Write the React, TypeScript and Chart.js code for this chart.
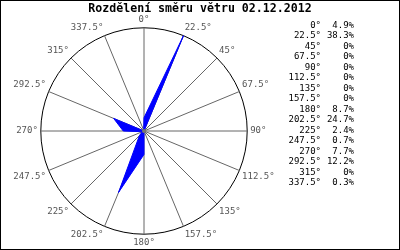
import React, { useEffect, useRef } from "react";
import { Chart, registerables } from "chart.js";

Chart.register(...registerables);

const TITLE = "Rozdělení směru větru 02.12.2012";
const directions = ["0°", "22.5°", "45°", "67.5°", "90°", "112.5°", "135°", "157.5°", "180°", "202.5°", "225°", "247.5°", "270°", "292.5°", "315°", "337.5°"];
const frequencies = [4.9, 38.3, 0, 0, 0, 0, 0, 0, 8.7, 24.7, 2.4, 0.7, 7.7, 12.2, 0, 0.3];
const legendValues = ["4.9%", "38.3%", "0%", "0%", "0%", "0%", "0%", "0%", "8.7%", "24.7%", "2.4%", "0.7%", "7.7%", "12.2%", "0%", "0.3%"];

const MONO = "'DejaVu Sans Mono', monospace";

export default function App() {
  const ref = useRef<HTMLCanvasElement>(null);
  useEffect(() => {
    document.body.style.margin = "0";
    const centerDot = {
      id: "centerDot",
      afterDatasetsDraw(chart: any) {
        const s = chart.scales.r;
        const ctx = chart.ctx;
        ctx.save();
        ctx.fillStyle = "#777";
        ctx.beginPath();
        ctx.arc(s.xCenter, s.yCenter, 2, 0, Math.PI * 2);
        ctx.fill();
        ctx.restore();
      },
    };
    const chart = new Chart(ref.current!, {
      type: "radar",
      data: {
        labels: directions,
        datasets: [
          {
            data: frequencies,
            backgroundColor: "#0000ff",
            borderColor: "#0000ff",
            borderWidth: 1,
            fill: true,
            pointRadius: 0,
            tension: 0,
          },
        ],
      },
      options: {
        responsive: false,
        animation: false,
        layout: { padding: { left: 0, top: 14, right: 112, bottom: 1 } },
        plugins: { legend: { display: false }, tooltip: { enabled: false }, title: { display: false } },
        scales: {
          r: {
            min: 0,
            max: 38.3,
            ticks: { display: false, count: 2 },
            grid: { circular: true, color: "#000", lineWidth: 1 },
            angleLines: { display: true, color: "#666", lineWidth: 1 },
            pointLabels: {
              display: true,
              color: "#555",
              padding: 3,
              font: { family: MONO, size: 9 },
            },
          },
        },
      },
      plugins: [centerDot],
    });
    return () => chart.destroy();
  }, []);

  return (
    <div style={{ position: "relative", width: 400, height: 250, background: "#fff", overflow: "hidden" }}>
      <canvas ref={ref} width={400} height={250} style={{ position: "absolute", left: 0, top: 0 }} />
      <div
        style={{
          position: "absolute",
          left: 0,
          top: 1,
          width: 400,
          textAlign: "center",
          fontFamily: MONO,
          fontWeight: "bold",
          fontSize: 11.6,
          lineHeight: "14px",
          color: "#000",
          whiteSpace: "pre",
        }}
      >
        {TITLE}
      </div>
      <div style={{ position: "absolute", left: 280, top: 19.5, fontFamily: MONO, fontSize: 9, lineHeight: "10.5px", color: "#000" }}>
        {directions.map((d, i) => (
          <div key={d} style={{ display: "flex", whiteSpace: "pre" }}>
            <span style={{ width: 41, textAlign: "right" }}>{d}</span>
            <span style={{ width: 33, textAlign: "right" }}>{legendValues[i]}</span>
          </div>
        ))}
      </div>
      <div style={{ position: "absolute", left: 0, top: 0, width: 400, height: 250, boxSizing: "border-box", border: "1px solid #000", pointerEvents: "none" }} />
    </div>
  );
}
